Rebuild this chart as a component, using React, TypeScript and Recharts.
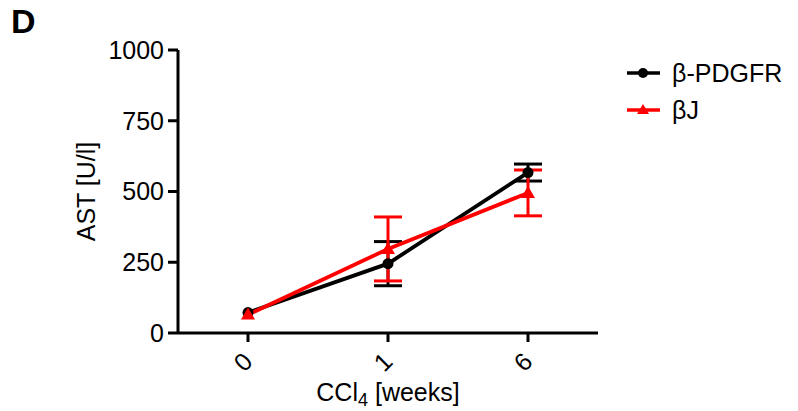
import { ComposedChart, Line, XAxis, YAxis, ErrorBar } from 'recharts'

// ─── Data ─────────────────────────────────────────────────────────────────────

const WEEKS = ['0', '1', '6']
const PDGFR_MEAN = [72, 245, 567]
const PDGFR_ERR = [null, 78, 30]
const BJ_MEAN = [65, 297, 495]
const BJ_ERR = [null, 113, 81]
const Y_TICKS = [0, 250, 500, 750, 1000]

const FONT = '"Liberation Sans", Arial, sans-serif'
const FS = 25

const data = WEEKS.map((w, i) => ({
  week: w,
  pdgfr: PDGFR_MEAN[i],
  pdgfrErr: PDGFR_ERR[i],
  bj: BJ_MEAN[i],
  bjErr: BJ_ERR[i],
}))

// ─── Markers ──────────────────────────────────────────────────────────────────

const CircleDot = (props: any) => {
  const { cx, cy } = props
  return <circle cx={cx} cy={cy} r={5.5} fill="#000" />
}

const TriangleDot = (props: any) => {
  const { cx, cy } = props
  return <polygon points={`${cx},${cy - 7} ${cx + 7},${cy + 5} ${cx - 7},${cy + 5}`} fill="#ff0000" />
}

// ─── Axis pieces ──────────────────────────────────────────────────────────────

const RotTick = (props: any) => {
  const { x, y, payload } = props
  return (
    <text
      transform={`translate(${x - 5},${y + 18}) rotate(-45)`}
      textAnchor="middle"
      dy="0.35em"
      fontFamily={FONT}
      fontSize={FS}
      fill="#000"
    >
      {payload.value}
    </text>
  )
}

const YLabel = (props: any) => {
  const vb = props.viewBox
  const cy = vb.y + vb.height / 2
  return (
    <text
      transform={`translate(86,${cy}) rotate(-90)`}
      textAnchor="middle"
      dy="0.35em"
      fontFamily={FONT}
      fontSize={FS}
      fill="#000"
    >
      AST [U/l]
    </text>
  )
}

const XLabel = (props: any) => {
  const vb = props.viewBox
  const cx = vb.x + vb.width / 2
  return (
    <text x={cx} y={401} textAnchor="middle" fontFamily={FONT} fontSize={FS} fill="#000">
      CCl<tspan dy={5} fontSize={18}>4</tspan>
      <tspan dy={-5}> [weeks]</tspan>
    </text>
  )
}

// ─── Legend ───────────────────────────────────────────────────────────────────

const LegendBox = () => (
  <svg width={198} height={80} style={{ position: 'absolute', left: 600, top: 50 }}>
    <line x1={27} y1={23} x2={60} y2={23} stroke="#000" strokeWidth={3.5} />
    <circle cx={43} cy={23} r={5} fill="#000" />
    <text x={72} y={32} fontFamily={FONT} fontSize={FS} fill="#000">β-PDGFR</text>
    <line x1={27} y1={60} x2={60} y2={60} stroke="#ff0000" strokeWidth={3.5} />
    <polygon points="43,54 49,64 37,64" fill="#ff0000" />
    <text x={72} y={69} fontFamily={FONT} fontSize={FS} fill="#000">βJ</text>
  </svg>
)

// ─── Component ────────────────────────────────────────────────────────────────

export default function App() {
  return (
    <div style={{ position: 'absolute', left: 0, top: 0, width: 798, height: 411, background: '#fff' }}>
      <div
        style={{
          position: 'absolute',
          left: 11,
          top: 2,
          fontFamily: FONT,
          fontWeight: 'bold',
          fontSize: 34,
          color: '#000',
        }}
      >
        D
      </div>
      <ComposedChart
        width={798}
        height={411}
        data={data}
        margin={{ top: 50, right: 200, bottom: 0, left: 78 }}
      >
        <XAxis
          dataKey="week"
          height={78}
          padding={{ left: 70, right: 70 }}
          axisLine={{ stroke: '#000', strokeWidth: 3 }}
          tickLine={{ stroke: '#000', strokeWidth: 3 }}
          tickSize={9}
          tick={<RotTick />}
          label={<XLabel />}
        />
        <YAxis
          width={100}
          domain={[0, 1000]}
          ticks={Y_TICKS}
          interval={0}
          axisLine={{ stroke: '#000', strokeWidth: 3 }}
          tickLine={{ stroke: '#000', strokeWidth: 3 }}
          tickSize={10}
          tickMargin={4}
          tick={{ fill: '#000', fontSize: FS, fontFamily: FONT }}
          label={<YLabel />}
        />
        <Line
          dataKey="pdgfr"
          stroke="#000"
          strokeWidth={3.8}
          dot={<CircleDot />}
          activeDot={false}
          isAnimationActive={false}
        >
          <ErrorBar dataKey="pdgfrErr" width={14} stroke="#000" strokeWidth={3} isAnimationActive={false} />
        </Line>
        <Line
          dataKey="bj"
          stroke="#ff0000"
          strokeWidth={3.8}
          dot={<TriangleDot />}
          activeDot={false}
          isAnimationActive={false}
        >
          <ErrorBar dataKey="bjErr" width={14} stroke="#ff0000" strokeWidth={3} isAnimationActive={false} />
        </Line>
      </ComposedChart>
      <LegendBox />
    </div>
  )
}
